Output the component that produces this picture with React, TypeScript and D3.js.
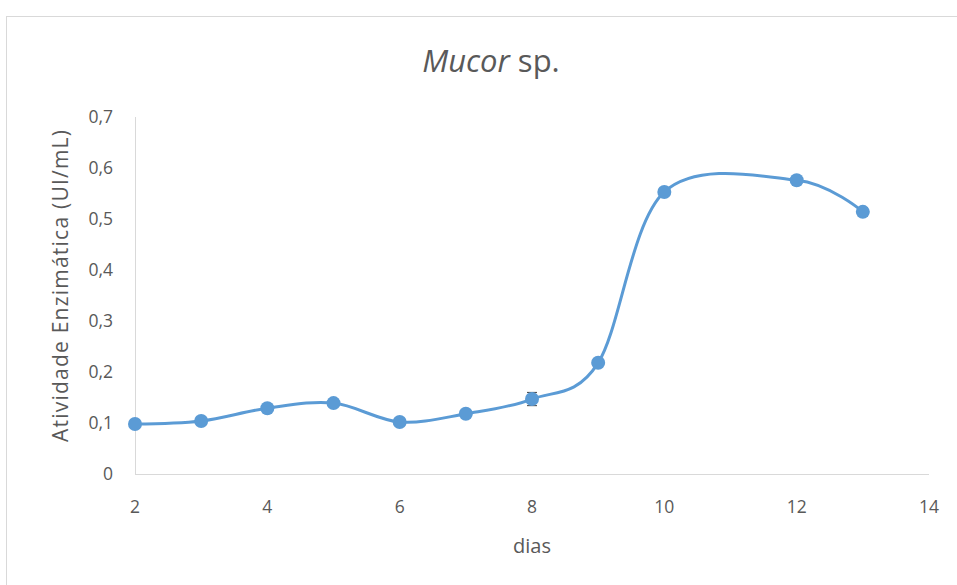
import React, { useEffect, useRef } from "react";
import * as d3 from "d3";

const dias = [2, 3, 4, 5, 6, 7, 8, 9, 10, 12, 13];
const atividade = [0.098, 0.104, 0.129, 0.139, 0.102, 0.118, 0.147, 0.218, 0.553, 0.576, 0.514];
const erro = [0.003, 0.003, 0.004, 0.004, 0.003, 0.004, 0.013, 0.004, 0.005, 0.005, 0.008];
const xTicks = [2, 4, 6, 8, 10, 12, 14];
const yTicks = [0, 0.1, 0.2, 0.3, 0.4, 0.5, 0.6, 0.7];

const W = 957, H = 585;
const FONT = "'Open Sans', 'Noto Sans', sans-serif";

export default function App() {
  const ref = useRef<SVGSVGElement>(null);

  useEffect(() => {
    const svg = d3.select(ref.current);
    svg.selectAll("*").remove();

    // chart frame
    svg.append("rect").attr("x", 6.5).attr("y", 16.5).attr("width", 1000).attr("height", 700)
      .attr("fill", "white").attr("stroke", "#d9d9d9");

    const x = d3.scaleLinear().domain([2, 14]).range([135, 929]);
    const y = d3.scaleLinear().domain([0, 0.7]).range([474, 117]);

    // axes lines
    svg.append("line").attr("x1", 135.5).attr("x2", 135.5).attr("y1", y(0.7)).attr("y2", y(0))
      .attr("stroke", "#d9d9d9").attr("stroke-width", 1);
    svg.append("line").attr("x1", x(2)).attr("x2", x(14)).attr("y1", 474.5).attr("y2", 474.5)
      .attr("stroke", "#d9d9d9").attr("stroke-width", 1);

    svg.selectAll(".ytick").data(yTicks).join("text").attr("class", "ytick")
      .attr("x", 113).attr("y", d => y(d)).attr("dy", "0.35em").attr("text-anchor", "end")
      .style("font-family", FONT).style("font-size", "17.5px").attr("fill", "#595959")
      .text(d => d3.format(".1f")(d).replace(".", ",").replace(/^0,0$/, "0"));

    svg.selectAll(".xtick").data(xTicks).join("text").attr("class", "xtick")
      .attr("x", d => x(d)).attr("y", 513).attr("text-anchor", "middle")
      .style("font-family", FONT).style("font-size", "17.5px").attr("fill", "#595959")
      .text(d => d);

    svg.append("text").attr("x", (x(2) + x(14)) / 2).attr("y", 553).attr("text-anchor", "middle")
      .style("font-family", FONT).style("font-size", "20px").attr("fill", "#595959").text("dias");

    svg.append("text").attr("transform", "translate(68,286) rotate(-90)").attr("text-anchor", "middle")
      .style("font-family", FONT).style("font-size", "21px").attr("fill", "#595959")
      .attr("textLength", 312).attr("lengthAdjust", "spacing")
      .text("Atividade Enzimática (UI/mL)");

    const title = svg.append("text").attr("x", 491).attr("y", 72).attr("text-anchor", "middle")
      .style("font-family", FONT).style("font-size", "31px").attr("fill", "#595959");
    title.append("tspan").style("font-style", "italic").text("Mucor");
    title.append("tspan").text(" sp.");

    const pts = dias.map((d, i) => ({ d, v: atividade[i], e: erro[i] }));

    const line = d3.line<{ d: number; v: number }>()
      .x(p => x(p.d)).y(p => y(p.v))
      .curve(d3.curveCardinal.tension(0));

    svg.append("path").datum(pts).attr("d", line).attr("fill", "none")
      .attr("stroke", "#5b9bd5").attr("stroke-width", 3);

    svg.selectAll(".pt").data(pts).join("circle").attr("class", "pt")
      .attr("cx", p => x(p.d)).attr("cy", p => y(p.v)).attr("r", 7).attr("fill", "#5b9bd5");

    const eb = svg.selectAll(".eb").data(pts).join("g").attr("class", "eb")
      .attr("stroke", "#404040").attr("stroke-width", 1);
    eb.append("line").attr("x1", p => x(p.d)).attr("x2", p => x(p.d))
      .attr("y1", p => y(p.v + p.e)).attr("y2", p => y(p.v - p.e));
    eb.append("line").attr("x1", p => x(p.d) - 5).attr("x2", p => x(p.d) + 5)
      .attr("y1", p => y(p.v + p.e)).attr("y2", p => y(p.v + p.e));
    eb.append("line").attr("x1", p => x(p.d) - 5).attr("x2", p => x(p.d) + 5)
      .attr("y1", p => y(p.v - p.e)).attr("y2", p => y(p.v - p.e));

    // markers drawn over the bars except where the bar sticks out
    svg.selectAll(".pt").raise();
    eb.filter(p => y(p.v - p.e) - y(p.v + p.e) > 14).raise();
  }, []);

  return (
    <svg ref={ref} width={W} height={H}
      style={{ position: "absolute", left: 0, top: 0, background: "white" }} />
  );
}
